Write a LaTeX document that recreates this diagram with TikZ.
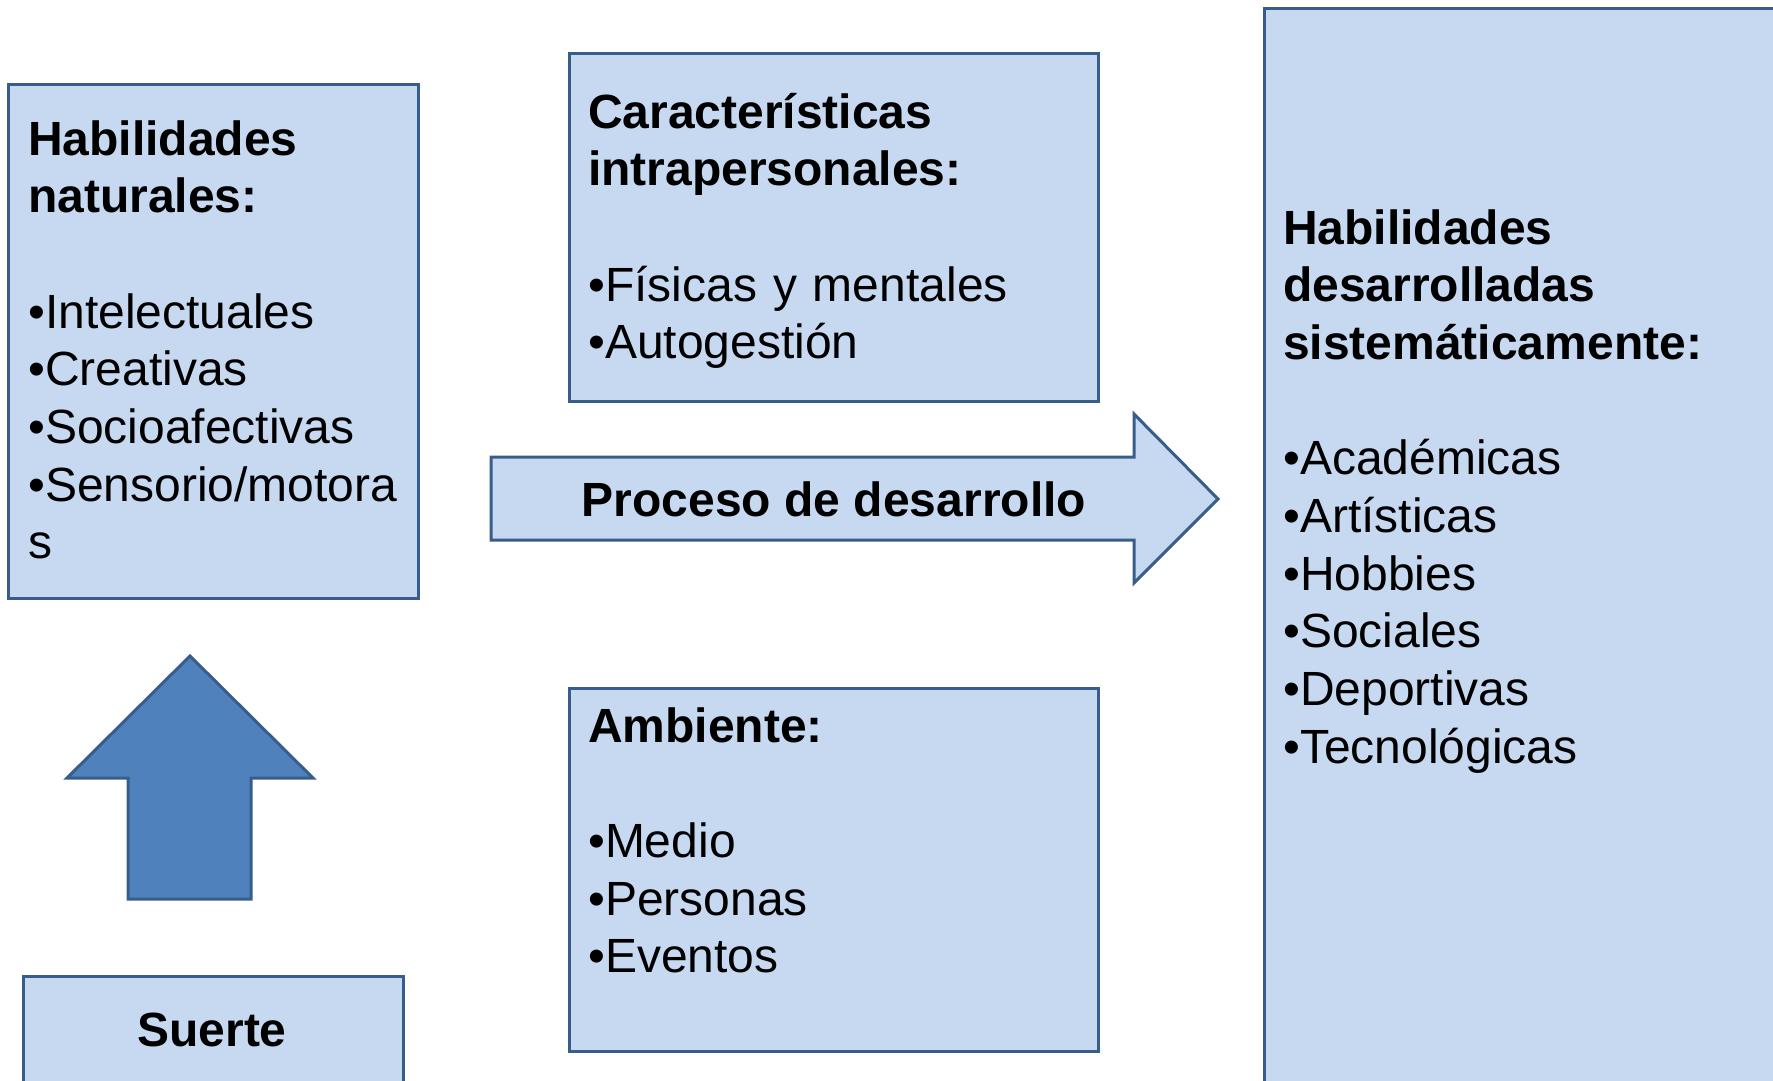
\documentclass[tikz,border=0pt]{standalone}
\usepackage{fontspec}
\setmainfont{Liberation Sans}
\definecolor{boxfill}{HTML}{C6D9F1}
\definecolor{boxline}{HTML}{385D8A}
\definecolor{arrowfill}{HTML}{4F81BD}
\tikzset{
  box/.style={draw=boxline, fill=boxfill, line width=3pt, inner sep=0pt, anchor=north west},
  txt/.style={font=\fontsize{48}{57.7}\selectfont, align=left, inner sep=0pt, anchor=base west},
  blockarrow/.style={draw=boxline, line width=3pt, line join=miter}
}
\begin{document}
\begin{tikzpicture}[x=1pt,y=-1pt]
\useasboundingbox (0,0) rectangle (1773,1080);
\clip (0,0) rectangle (1773,1080);
% left box
\node[box, minimum width=410pt, minimum height=514pt] (lbox) at (7,83) {};
\node[txt, text width=400pt] (ltext) at (28,155) {\textbf{Habilidades}\\\textbf{naturales:}\\[57.7pt]•Intelectuales\\•Creativas\\•Socioafectivas\\•Sensorio/motora\\s};
% top middle box
\node[box, minimum width=529pt, minimum height=348pt] (tbox) at (568,52) {};
\node[txt, text width=500pt] (ttext) at (588,128) {\textbf{Características}\\\textbf{intrapersonales:}\\[57.7pt]•Físicas y mentales\\•Autogestión};
% process arrow
\draw[blockarrow, fill=boxfill] (491,457) -- (1134,457) -- (1134,414) -- (1218,499) -- (1134,583) -- (1134,540) -- (491,540) -- cycle;
\node[font=\fontsize{48}{57.7}\selectfont\bfseries, inner sep=0pt, anchor=base] (proc) at (834,516) {Proceso de desarrollo};
% bottom middle box
\node[box, minimum width=529pt, minimum height=363pt] (abox) at (568,687) {};
\node[txt, text width=500pt] (atext) at (588,742) {\textbf{Ambiente:}\\[57.7pt]•Medio\\•Personas\\•Eventos};
% right box
\node[box, minimum width=560pt, minimum height=1120pt] (rbox) at (1263,7) {};
\node[txt, text width=480pt] (rtext) at (1283,244) {\textbf{Habilidades}\\\textbf{desarrolladas}\\\textbf{sistemáticamente:}\\[57.7pt]•Académicas\\•Artísticas\\•Hobbies\\•Sociales\\•Deportivas\\•Tecnológicas};
% up arrow
\draw[blockarrow, fill=arrowfill] (190,656) -- (313,778) -- (251,778) -- (251,899) -- (128,899) -- (128,778) -- (67,778) -- cycle;
% suerte
\node[box, minimum width=380pt, minimum height=140pt] (suerte) at (22,975) {};
\node[font=\fontsize{48}{57.7}\selectfont\bfseries, inner sep=0pt, anchor=base] (suertetext) at (212,1046) {Suerte};
\end{tikzpicture}
\end{document}
